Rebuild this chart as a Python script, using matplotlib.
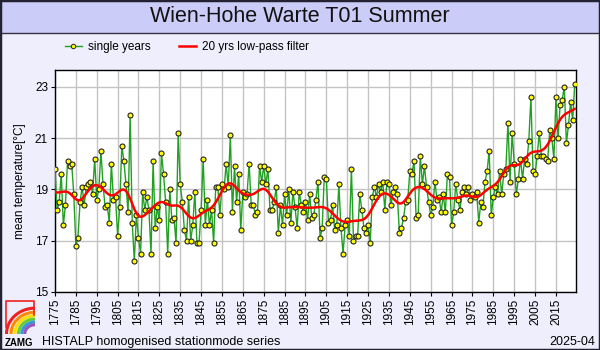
import numpy as np
import matplotlib
matplotlib.use('Agg')
import matplotlib.pyplot as plt
from matplotlib.patches import Rectangle, Arc
from matplotlib.lines import Line2D

plt.rcParams['font.family'] = ['Liberation Sans', 'DejaVu Sans']

# summer mean temperature, one row per decade (1775-2024)
years = np.arange(1775, 2025)
temps = [
    19.8, 18.2, 18.5, 19.6, 17.6, 18.4, 20.1, 19.9, 20.0, 18.8,
    16.8, 17.1, 18.5, 19.1, 18.4, 19.1, 19.2, 19.3, 18.8, 20.2,
    18.6, 19.0, 20.5, 19.2, 18.3, 18.4, 17.7, 20.0, 18.6, 18.7,
    17.2, 18.3, 20.7, 20.1, 19.2, 18.1, 21.9, 17.7, 16.2, 18.0,
    17.1, 16.5, 18.9, 18.2, 18.7, 18.2, 16.5, 20.1, 17.5, 18.3,
    17.8, 20.4, 19.6, 18.5, 16.5, 19.0, 17.8, 17.9, 16.9, 21.2,
    19.2, 18.5, 17.4, 17.0, 18.7, 17.0, 17.6, 18.9, 16.9, 16.9,
    18.2, 20.2, 17.6, 18.6, 17.6, 18.2, 16.9, 19.1, 19.1, 18.0,
    19.2, 19.0, 20.0, 19.1, 21.1, 18.1, 19.9, 18.5, 19.6, 17.4,
    18.9, 18.7, 18.8, 20.0, 18.4, 18.4, 18.0, 18.1, 19.9, 19.3,
    19.9, 19.2, 19.8, 18.2, 18.2, 18.5, 19.1, 17.3, 18.4, 17.6,
    18.8, 18.0, 19.0, 17.7, 18.9, 18.3, 17.5, 18.9, 18.4, 18.1,
    18.5, 17.8, 18.8, 17.9, 18.0, 18.6, 19.3, 17.1, 17.5, 19.5,
    19.4, 17.7, 17.8, 18.4, 17.4, 17.6, 19.2, 17.5, 16.5, 17.6,
    17.8, 17.2, 19.8, 17.0, 17.2, 17.2, 18.8, 18.2, 17.5, 17.3,
    17.6, 16.9, 18.7, 19.1, 18.7, 19.2, 18.9, 19.3, 18.2, 19.3,
    19.2, 18.4, 18.9, 19.1, 18.8, 17.3, 17.5, 17.9, 18.5, 18.6,
    19.7, 19.6, 20.1, 17.9, 18.0, 20.3, 19.2, 19.9, 19.1, 18.5,
    18.0, 18.3, 19.3, 18.6, 18.7, 18.1, 18.8, 18.1, 19.6, 19.5,
    17.6, 18.1, 19.2, 18.6, 18.2, 18.9, 19.1, 18.8, 19.1, 18.6,
    18.8, 18.7, 18.9, 17.7, 18.5, 18.3, 19.3, 19.7, 20.5, 18.0,
    18.7, 19.1, 18.8, 19.7, 18.8, 19.6, 19.8, 21.6, 19.3, 21.2,
    20.0, 18.8, 19.4, 20.2, 19.4, 20.2, 20.0, 20.9, 22.6, 19.7,
    19.6, 20.3, 21.2, 20.3, 20.3, 20.2, 20.1, 21.3, 21.0, 20.2,
    22.6, 21.0, 22.3, 22.5, 23.0, 20.8, 21.5, 22.4, 21.7, 23.1,
]
temps = np.array(temps)

tick_years = np.arange(1775, 2025, 10)
y_ticks = [15, 17, 19, 21, 23]


def lowpass(values, width=20):
    # gaussian low-pass, kernel renormalised near the ends
    sigma = width / 6.0
    half = int(3 * sigma)
    k = np.exp(-0.5 * (np.arange(-half, half + 1) / sigma) ** 2)
    out = np.empty(len(values))
    for i in range(len(values)):
        lo, hi = max(0, i - half), min(len(values), i + half + 1)
        w = k[lo - i + half:hi - i + half]
        out[i] = np.sum(w * values[lo:hi]) / np.sum(w)
    return out


smooth = lowpass(temps)

W, H = 600, 350
fig = plt.figure(figsize=(6, 3.5), dpi=100, facecolor='#eeeefc')

# header band and frame
fig.patches.append(Rectangle((0, 1 - 33 / H), 1, 33 / H, transform=fig.transFigure,
                             facecolor='#ccccf8', edgecolor='#333344', lw=1, zorder=0))
fig.patches.append(Rectangle((0, 0), 1, 1, transform=fig.transFigure, fill=False,
                             edgecolor='#222233', lw=2.5, zorder=5))
fig.text(0.5, 1 - 17 / H, 'Wien-Hohe Warte T01 Summer', ha='center', va='center',
         fontsize=15.5, color='#111111')

ax = fig.add_axes([55 / W, 1 - 292 / H, (576 - 55) / W, (292 - 70) / H])
ax.set_facecolor('white')
ax.plot(years, temps, color='#22a022', lw=1, marker='o', markersize=3.6,
        markerfacecolor='#ffff00', markeredgecolor='#222222', markeredgewidth=0.8,
        zorder=3)
ax.plot(years, smooth, color='#ff0000', lw=1.8, zorder=4)

ax.set_xlim(1775, 2024.6)
ax.set_ylim(15, 23.65)
ax.set_xticks(tick_years)
ax.set_xticklabels([str(y) for y in tick_years], rotation=90, fontsize=8.5)
ax.set_yticks(y_ticks)
ax.set_yticklabels([str(y) for y in y_ticks], fontsize=8.5)
ax.tick_params(length=3, width=0.8, pad=2)
ax.grid(True, color='#c4c4c4', lw=1)
ax.set_axisbelow(True)
for s in ax.spines.values():
    s.set_color('black')
    s.set_linewidth(1)
ax.set_ylabel('mean temperature[°C]', fontsize=8.5, labelpad=6)

handles = [
    Line2D([], [], color='#22a022', lw=1, marker='o', markersize=3.2,
           markerfacecolor='#ffff00', markeredgecolor='#222222', markeredgewidth=0.7),
    Line2D([], [], color='#ff0000', lw=1.8),
]
fig.legend(handles, ['single years', '20 yrs low-pass filter'], loc='center left',
           bbox_to_anchor=(54 / W, 1 - 47 / H), ncol=2, frameon=False, fontsize=8.5,
           handlelength=1.5, handletextpad=0.45, columnspacing=2.4)

# ZAMG logo
lg = fig.add_axes([5 / W, 1 - 334 / H, 30 / W, 34 / H])
lg.set_xlim(0, 1)
lg.set_ylim(0, 1)
lg.axis('off')
lg.plot([0.02, 0.02, 0.98, 0.98], [0.2, 0.98, 0.98, 0.55], color='#ee2222', lw=1.2)
for r, c in zip([0.95, 0.8, 0.67, 0.55, 0.44, 0.34],
                ['#ee2222', '#ff8800', '#ffdd00', '#66cc33', '#3399dd', '#9955bb']):
    lg.add_patch(Arc((1.0, 0.0), 2 * r, 1.6 * r, theta1=60, theta2=180, color=c, lw=2.2))
fig.text(5 / W, 1 - 343 / H, 'ZAMG', fontsize=7, fontweight='bold', va='center')
fig.text(42 / W, 1 - 342 / H, 'HISTALP homogenised stationmode series', fontsize=9,
         va='center')
fig.text(595 / W, 1 - 342 / H, '2025-04', fontsize=9, va='center', ha='right')

fig.savefig('out.png', dpi=100)
